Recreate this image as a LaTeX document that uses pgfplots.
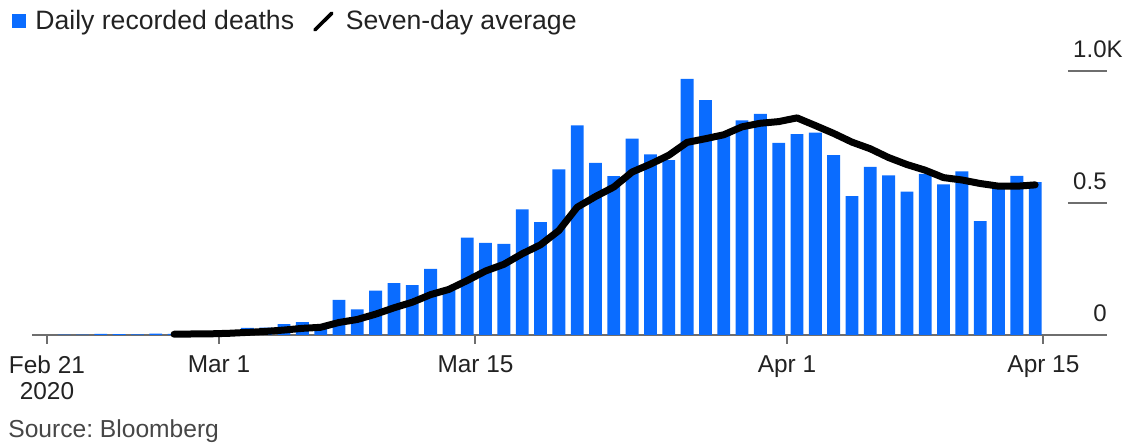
\documentclass[border=0pt]{standalone}
\usepackage{fontspec}
\setmainfont{Liberation Sans}
\usepackage{pgfplots}
\pgfplotsset{compat=1.18}
\usepackage{pgfplotstable}
\definecolor{barblue}{RGB}{10,108,255}
\definecolor{txt}{RGB}{34,34,34}
\definecolor{axgray}{RGB}{110,110,110}
\definecolor{srcgray}{RGB}{70,70,70}
\frenchspacing

% day index: Feb 21 = 0
\pgfplotstableread{
d v
1 1
2 1
3 4
4 3
5 2
6 5
7 4
8 8
9 5
10 18
11 27
12 28
13 41
14 49
15 36
16 133
17 97
18 168
19 196
20 189
21 250
22 175
23 368
24 349
25 345
26 475
27 427
28 627
29 793
30 651
31 601
32 743
33 683
34 662
35 969
36 889
37 756
38 812
39 837
40 727
41 760
42 766
43 681
44 525
45 636
46 604
47 542
48 610
49 570
50 619
51 431
52 566
53 602
54 578
}\daily

\pgfplotstableread{
d a
7 2.86
8 3.86
9 4.43
10 6.43
11 9.86
12 13.57
13 18.71
14 25.14
15 29.14
16 47.43
17 58.71
18 78.86
19 102.86
20 124.00
21 152.71
22 172.57
23 206.14
24 242.14
25 267.43
26 307.29
27 341.29
28 395.14
29 483.43
30 523.86
31 559.86
32 616.71
33 646.43
34 680.00
35 728.86
36 742.57
37 757.57
38 787.71
39 801.14
40 807.43
41 821.43
42 792.43
43 762.71
44 729.71
45 704.57
46 671.29
47 644.86
48 623.43
49 595.43
50 586.57
51 573.14
52 563.14
53 562.86
54 568.00
}\avg

\begin{document}
\begin{tikzpicture}
\path[use as bounding box] (-16pt,-54pt) rectangle (549.5pt,167.5pt);
\begin{axis}[
  at={(0pt,0pt)}, anchor=south west,
  scale only axis, width=537.5pt, height=132.15pt,
  xmin=-0.757, xmax=57.92, ymin=0, ymax=1000,
  axis x line=bottom, axis y line=right,
  x axis line style={-, axgray, line width=1pt},
  y axis line style={draw=none},
  xtick={0.06,9.45,23.45,40.45,54.45},
  xticklabels={{Feb 21\\2020},Mar 1,Mar 15,Apr 1,Apr 15},
  xticklabel style={align=center, font=\fontsize{12.2}{12.8}\selectfont, text=txt, yshift=-2.5pt},
  ytick={0,500,1000}, yticklabels={0,0.5,1.0\rlap{K}},
  yticklabel style={anchor=base east, inner sep=0pt, xshift=-4.5pt, yshift=6.5pt, font=\fontsize{12}{14}\selectfont, text=txt},
  tick align=outside, major tick length=4.5pt,
  xtick style={axgray, line width=1pt}, ytick style={draw=none},
  clip=false,
  legend columns=2,
  legend style={at={(axis description cs:0,1)}, anchor=west, xshift=-10pt, yshift=24.6pt,
    draw=none, fill=none, inner sep=0pt, font=\fontsize{13.3}{15}\selectfont, text=txt,
    /tikz/every odd column/.style={column sep=4.5pt},
    /tikz/every even column/.style={column sep=9.5pt},
    nodes={inner sep=0pt}},
]
\addplot[ybar, bar width=0.7, bar shift=0pt, fill=barblue, draw=none,
  legend image code/.code={\fill[barblue] (0pt,-3.5pt) rectangle (7pt,3.5pt);}]
  table[x=d, y=v]{\daily};
\addlegendentry{Daily recorded deaths}
\addplot[black, line width=3.5pt, line join=round, line cap=round, mark=none,
  legend image code/.code={\draw[black, line width=1.8pt, line cap=round] (0pt,-4.2pt) -- (8.5pt,4.2pt); \path[draw=none] (0pt,0pt) -- (11pt,0pt);}]
  table[x=d, y=a]{\avg};
\addlegendentry{Seven-day average}
\draw[axgray, line width=1pt] (axis cs:55.79,500) -- (axis cs:57.92,500);
\draw[axgray, line width=1pt] (axis cs:55.79,1000) -- (axis cs:57.92,1000);
\end{axis}
\node[anchor=base west, inner sep=0pt, font=\fontsize{12.3}{14}\selectfont, text=srcgray] at (-12pt,-51.5pt) {Source: Bloomberg};
\end{tikzpicture}
\end{document}
